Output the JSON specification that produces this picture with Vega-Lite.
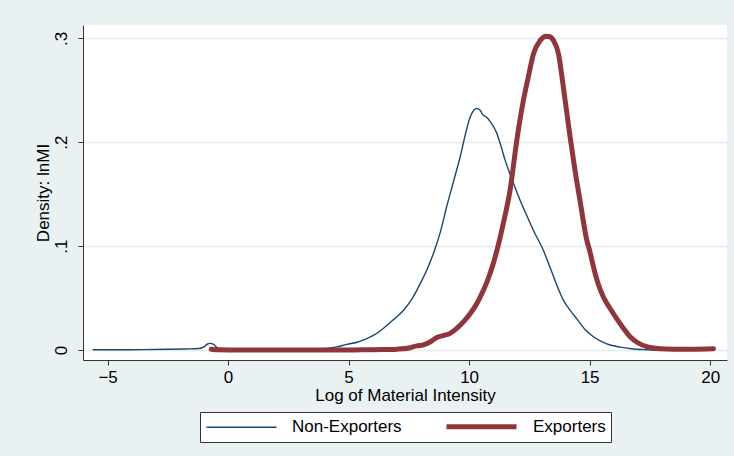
{
  "$schema": "https://vega.github.io/schema/vega-lite/v6.json",
  "width": 644,
  "height": 335,
  "autosize": "none",
  "padding": {"left": 83, "top": 25, "right": 7, "bottom": 96},
  "background": "#E9F1F3",
  "config": {
    "view": {"stroke": null, "fill": "white"},
    "font": "Liberation Sans",
    "axis": {
      "labelFont": "Liberation Sans",
      "titleFont": "Liberation Sans",
      "labelColor": "#000000",
      "titleColor": "#000000",
      "titleFontWeight": "normal",
      "labelFontSize": 17,
      "titleFontSize": 17,
      "domainColor": "#333333",
      "tickColor": "#333333",
      "tickSize": 5
    },
    "legend": {
      "labelFont": "Liberation Sans",
      "labelFontSize": 17,
      "labelColor": "#000000"
    }
  },
  "data": {
    "values": [
      {"x": -5.6, "y": 0.0002, "s": "Non-Exporters"},
      {"x": -4.5, "y": 0.0003, "s": "Non-Exporters"},
      {"x": -3.5, "y": 0.0004, "s": "Non-Exporters"},
      {"x": -2.5, "y": 0.0007, "s": "Non-Exporters"},
      {"x": -1.8, "y": 0.0010, "s": "Non-Exporters"},
      {"x": -1.2, "y": 0.0014, "s": "Non-Exporters"},
      {"x": -1.0, "y": 0.003, "s": "Non-Exporters"},
      {"x": -0.85, "y": 0.0058, "s": "Non-Exporters"},
      {"x": -0.75, "y": 0.0064, "s": "Non-Exporters"},
      {"x": -0.6, "y": 0.0055, "s": "Non-Exporters"},
      {"x": -0.45, "y": 0.002, "s": "Non-Exporters"},
      {"x": -0.3, "y": 0.0006, "s": "Non-Exporters"},
      {"x": 0.5, "y": 0.0004, "s": "Non-Exporters"},
      {"x": 1.5, "y": 0.0004, "s": "Non-Exporters"},
      {"x": 2.5, "y": 0.0005, "s": "Non-Exporters"},
      {"x": 3.5, "y": 0.0008, "s": "Non-Exporters"},
      {"x": 4.1, "y": 0.0016, "s": "Non-Exporters"},
      {"x": 4.5, "y": 0.003, "s": "Non-Exporters"},
      {"x": 4.93, "y": 0.0055, "s": "Non-Exporters"},
      {"x": 5.35, "y": 0.0075, "s": "Non-Exporters"},
      {"x": 5.75, "y": 0.011, "s": "Non-Exporters"},
      {"x": 6.1, "y": 0.015, "s": "Non-Exporters"},
      {"x": 6.45, "y": 0.021, "s": "Non-Exporters"},
      {"x": 6.85, "y": 0.029, "s": "Non-Exporters"},
      {"x": 7.27, "y": 0.038, "s": "Non-Exporters"},
      {"x": 7.65, "y": 0.050, "s": "Non-Exporters"},
      {"x": 8.04, "y": 0.067, "s": "Non-Exporters"},
      {"x": 8.3, "y": 0.080, "s": "Non-Exporters"},
      {"x": 8.52, "y": 0.093, "s": "Non-Exporters"},
      {"x": 8.8, "y": 0.113, "s": "Non-Exporters"},
      {"x": 9.07, "y": 0.138, "s": "Non-Exporters"},
      {"x": 9.35, "y": 0.162, "s": "Non-Exporters"},
      {"x": 9.63, "y": 0.186, "s": "Non-Exporters"},
      {"x": 9.85, "y": 0.208, "s": "Non-Exporters"},
      {"x": 10.04, "y": 0.224, "s": "Non-Exporters"},
      {"x": 10.2, "y": 0.231, "s": "Non-Exporters"},
      {"x": 10.32, "y": 0.2325, "s": "Non-Exporters"},
      {"x": 10.45, "y": 0.231, "s": "Non-Exporters"},
      {"x": 10.55, "y": 0.227, "s": "Non-Exporters"},
      {"x": 10.73, "y": 0.224, "s": "Non-Exporters"},
      {"x": 10.9, "y": 0.219, "s": "Non-Exporters"},
      {"x": 11.15, "y": 0.2085, "s": "Non-Exporters"},
      {"x": 11.3, "y": 0.198, "s": "Non-Exporters"},
      {"x": 11.49, "y": 0.183, "s": "Non-Exporters"},
      {"x": 11.8, "y": 0.163, "s": "Non-Exporters"},
      {"x": 12.12, "y": 0.144, "s": "Non-Exporters"},
      {"x": 12.4, "y": 0.129, "s": "Non-Exporters"},
      {"x": 12.67, "y": 0.115, "s": "Non-Exporters"},
      {"x": 13.08, "y": 0.096, "s": "Non-Exporters"},
      {"x": 13.4, "y": 0.077, "s": "Non-Exporters"},
      {"x": 13.78, "y": 0.0545, "s": "Non-Exporters"},
      {"x": 13.91, "y": 0.048, "s": "Non-Exporters"},
      {"x": 14.2, "y": 0.038, "s": "Non-Exporters"},
      {"x": 14.47, "y": 0.030, "s": "Non-Exporters"},
      {"x": 14.88, "y": 0.018, "s": "Non-Exporters"},
      {"x": 15.16, "y": 0.0128, "s": "Non-Exporters"},
      {"x": 15.5, "y": 0.008, "s": "Non-Exporters"},
      {"x": 15.85, "y": 0.0048, "s": "Non-Exporters"},
      {"x": 16.27, "y": 0.0028, "s": "Non-Exporters"},
      {"x": 16.82, "y": 0.001, "s": "Non-Exporters"},
      {"x": 17.4, "y": 0.0003, "s": "Non-Exporters"},
      {"x": 17.93, "y": 0.0, "s": "Non-Exporters"},
      {"x": -0.7, "y": 0.0008, "s": "Exporters"},
      {"x": -0.4, "y": 0.0002, "s": "Exporters"},
      {"x": 0.5, "y": 0.0, "s": "Exporters"},
      {"x": 2.0, "y": 0.0, "s": "Exporters"},
      {"x": 4.0, "y": 0.0, "s": "Exporters"},
      {"x": 5.0, "y": 0.0, "s": "Exporters"},
      {"x": 6.0, "y": 0.0003, "s": "Exporters"},
      {"x": 6.5, "y": 0.0004, "s": "Exporters"},
      {"x": 7.0, "y": 0.0008, "s": "Exporters"},
      {"x": 7.5, "y": 0.002, "s": "Exporters"},
      {"x": 7.83, "y": 0.004, "s": "Exporters"},
      {"x": 8.1, "y": 0.005, "s": "Exporters"},
      {"x": 8.4, "y": 0.008, "s": "Exporters"},
      {"x": 8.66, "y": 0.012, "s": "Exporters"},
      {"x": 8.95, "y": 0.014, "s": "Exporters"},
      {"x": 9.21, "y": 0.016, "s": "Exporters"},
      {"x": 9.5, "y": 0.021, "s": "Exporters"},
      {"x": 9.8, "y": 0.028, "s": "Exporters"},
      {"x": 10.04, "y": 0.035, "s": "Exporters"},
      {"x": 10.25, "y": 0.042, "s": "Exporters"},
      {"x": 10.46, "y": 0.051, "s": "Exporters"},
      {"x": 10.75, "y": 0.066, "s": "Exporters"},
      {"x": 11.0, "y": 0.083, "s": "Exporters"},
      {"x": 11.2, "y": 0.100, "s": "Exporters"},
      {"x": 11.42, "y": 0.122, "s": "Exporters"},
      {"x": 11.7, "y": 0.154, "s": "Exporters"},
      {"x": 11.98, "y": 0.202, "s": "Exporters"},
      {"x": 12.25, "y": 0.240, "s": "Exporters"},
      {"x": 12.45, "y": 0.262, "s": "Exporters"},
      {"x": 12.67, "y": 0.285, "s": "Exporters"},
      {"x": 12.95, "y": 0.298, "s": "Exporters"},
      {"x": 13.2, "y": 0.302, "s": "Exporters"},
      {"x": 13.35, "y": 0.3015, "s": "Exporters"},
      {"x": 13.5, "y": 0.298, "s": "Exporters"},
      {"x": 13.71, "y": 0.285, "s": "Exporters"},
      {"x": 13.91, "y": 0.253, "s": "Exporters"},
      {"x": 14.19, "y": 0.205, "s": "Exporters"},
      {"x": 14.4, "y": 0.172, "s": "Exporters"},
      {"x": 14.6, "y": 0.144, "s": "Exporters"},
      {"x": 14.88, "y": 0.106, "s": "Exporters"},
      {"x": 15.02, "y": 0.094, "s": "Exporters"},
      {"x": 15.16, "y": 0.080, "s": "Exporters"},
      {"x": 15.35, "y": 0.064, "s": "Exporters"},
      {"x": 15.57, "y": 0.051, "s": "Exporters"},
      {"x": 15.85, "y": 0.040, "s": "Exporters"},
      {"x": 16.13, "y": 0.030, "s": "Exporters"},
      {"x": 16.4, "y": 0.021, "s": "Exporters"},
      {"x": 16.68, "y": 0.0128, "s": "Exporters"},
      {"x": 17.0, "y": 0.007, "s": "Exporters"},
      {"x": 17.4, "y": 0.003, "s": "Exporters"},
      {"x": 17.93, "y": 0.0012, "s": "Exporters"},
      {"x": 18.5, "y": 0.0008, "s": "Exporters"},
      {"x": 19.2, "y": 0.0008, "s": "Exporters"},
      {"x": 20.14, "y": 0.0012, "s": "Exporters"}
    ]
  },
  "mark": {"type": "line", "interpolate": "monotone", "strokeCap": "round", "strokeJoin": "round"},
  "encoding": {
    "x": {
      "field": "x",
      "type": "quantitative",
      "scale": {"domain": [-6.02, 20.7], "nice": false, "zero": false},
      "axis": {
        "title": "Log of Material Intensity",
        "values": [-5, 0, 5, 10, 15, 20],
        "grid": false,
        "labelPadding": 4,
        "titlePadding": 2
      }
    },
    "y": {
      "field": "y",
      "type": "quantitative",
      "scale": {"domain": [-0.0096, 0.3128], "nice": false, "zero": false},
      "axis": {
        "title": "Density: lnMI",
        "values": [0, 0.1, 0.2, 0.3],
        "labelExpr": "datum.value == 0 ? '0' : replace(format(datum.value, '.1f'), '0.', '.')",
        "labelAngle": -90,
        "labelAlign": "center",
        "labelBaseline": "bottom",
        "labelPadding": 8,
        "grid": true,
        "gridColor": "#E2ECEF",
        "gridWidth": 1.5,
        "titlePadding": 0
      }
    },
    "color": {
      "field": "s",
      "type": "nominal",
      "scale": {"domain": ["Non-Exporters", "Exporters"], "range": ["#1A476F", "#90353B"]},
      "legend": {
        "title": null,
        "orient": "none",
        "legendX": 117,
        "legendY": 387,
        "direction": "horizontal",
        "symbolType": "M-1,0H9",
        "symbolSize": 196,
        "fillColor": "white",
        "strokeColor": "#333333",
        "padding": 5,
        "labelOffset": 70,
        "columnPadding": 34
      }
    },
    "strokeWidth": {
      "field": "s",
      "type": "nominal",
      "scale": {"domain": ["Non-Exporters", "Exporters"], "range": [1.4, 5]},
      "legend": {
        "title": null,
        "orient": "none",
        "legendX": 117,
        "legendY": 387,
        "direction": "horizontal",
        "symbolType": "M-1,0H9",
        "symbolSize": 196,
        "fillColor": "white",
        "strokeColor": "#333333",
        "padding": 5,
        "labelOffset": 70,
        "columnPadding": 34
      }
    }
  }
}
